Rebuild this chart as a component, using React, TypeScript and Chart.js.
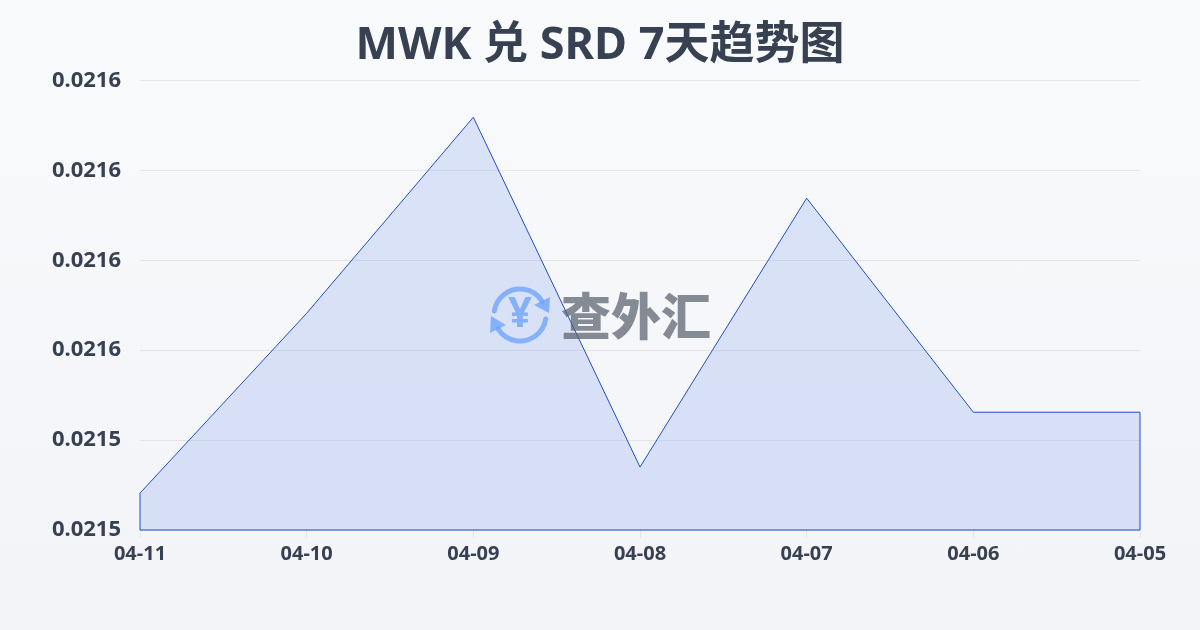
import React, { useEffect, useRef } from "react";
import { Chart, registerables } from "chart.js";

Chart.register(...registerables);

const titleText = "MWK 兑 SRD 7天趋势图";
const categories = ["04-11", "04-10", "04-09", "04-08", "04-07", "04-06", "04-05"];
const rates = [0.0215282, 0.0215682, 0.0216118, 0.021534, 0.0215938, 0.0215462, 0.0215462];
const yMin = 0.02152;
const yMax = 0.02162;
const yStep = 0.00002;
const watermarkText = "查外汇";
const watermarkSymbol = "¥";

const LABEL_FONT = "'Noto Sans', 'Noto Sans CJK SC', sans-serif";
const LINE_COLOR = "#1e4fc0";

const outlinePlugin = {
  id: "outline",
  afterDatasetsDraw(chart: any) {
    const { ctx, chartArea } = chart;
    const pts = chart.getDatasetMeta(0).data;
    const first = pts[0];
    const last = pts[pts.length - 1];
    ctx.save();
    ctx.strokeStyle = LINE_COLOR;
    ctx.lineWidth = 1;
    ctx.beginPath();
    ctx.moveTo(first.x, first.y);
    ctx.lineTo(first.x, chartArea.bottom);
    ctx.lineTo(last.x, chartArea.bottom);
    ctx.lineTo(last.x, last.y);
    ctx.stroke();
    ctx.restore();
  },
};

const watermarkPlugin = {
  id: "watermark",
  afterDraw(chart: any) {
    const { ctx } = chart;
    ctx.save();
    const cx = 520;
    const cy = 315;
    const r = 26;
    ctx.strokeStyle = "rgba(100,160,250,0.72)";
    ctx.fillStyle = "rgba(100,160,250,0.72)";
    ctx.lineWidth = 5;
    ctx.lineCap = "round";
    ctx.beginPath();
    ctx.arc(cx, cy, r, Math.PI * 1.05, Math.PI * 1.82);
    ctx.stroke();
    ctx.beginPath();
    ctx.arc(cx, cy, r, Math.PI * 0.05, Math.PI * 0.82);
    ctx.stroke();
    ctx.beginPath();
    ctx.moveTo(550, 297);
    ctx.lineTo(549, 313);
    ctx.lineTo(534, 305);
    ctx.closePath();
    ctx.fill();
    ctx.beginPath();
    ctx.moveTo(490, 333);
    ctx.lineTo(491, 316);
    ctx.lineTo(506, 325);
    ctx.closePath();
    ctx.fill();
    ctx.font = `bold 42px ${LABEL_FONT}`;
    ctx.textAlign = "center";
    ctx.textBaseline = "middle";
    ctx.fillText(watermarkSymbol, cx, cy);
    ctx.font = `900 50px 'Noto Sans CJK SC', sans-serif`;
    ctx.textAlign = "left";
    ctx.fillStyle = "rgba(85,92,105,0.7)";
    ctx.fillText(watermarkText, 561, 316);
    ctx.restore();
  },
};

export default function App() {
  const ref = useRef<HTMLCanvasElement>(null);
  useEffect(() => {
    document.body.style.margin = "0";
    const chart = new Chart(ref.current as HTMLCanvasElement, {
      type: "line",
      data: {
        labels: categories,
        datasets: [
          {
            data: rates,
            borderColor: LINE_COLOR,
            borderWidth: 1,
            backgroundColor: "rgba(40,95,235,0.14)",
            fill: "start",
            tension: 0,
            pointRadius: 0,
          },
        ],
      },
      options: {
        responsive: false,
        animation: false,
        layout: { padding: 0 },
        plugins: {
          legend: { display: false },
          tooltip: { enabled: false },
          title: {
            display: true,
            text: titleText,
            color: "#374151",
            font: { family: LABEL_FONT, size: 45, weight: "bold", lineHeight: 1 },
            padding: { top: 24, bottom: 11.4 },
          },
        },
        scales: {
          x: {
            type: "category",
            offset: false,
            afterFit(axis: any) {
              axis.height = 100;
            },
            grid: { drawOnChartArea: false, drawTicks: true, tickLength: 8, color: "rgba(0,0,0,0.06)" },
            border: { display: false },
            ticks: {
              autoSkip: false,
              maxRotation: 0,
              padding: 4,
              color: "#374151",
              font: { family: LABEL_FONT, size: 20, weight: "bold" },
            },
          },
          y: {
            min: yMin,
            max: yMax,
            afterBuildTicks(axis: any) {
              const list = [];
              for (let i = 0; i <= 5; i++) list.push({ value: yMin + i * yStep });
              axis.ticks = list;
            },
            afterFit(axis: any) {
              axis.width = 140;
            },
            grid: { color: "rgba(0,0,0,0.07)", lineWidth: 1, drawTicks: false },
            border: { display: false },
            ticks: {
              padding: 19,
              color: "#374151",
              font: { family: LABEL_FONT, size: 22, weight: "bold" },
              callback: (v: any) => Number(v).toFixed(4),
            },
          },
          rightGutter: {
            position: "right",
            display: true,
            afterFit(axis: any) {
              axis.width = 60;
            },
            grid: { drawOnChartArea: false, drawTicks: false },
            border: { display: false },
            ticks: { display: false },
          },
        },
      },
      plugins: [outlinePlugin, watermarkPlugin],
    } as any);
    return () => chart.destroy();
  }, []);
  return (
    <div
      style={{
        width: 1200,
        height: 630,
        background: "linear-gradient(180deg, #f9fafc 0%, #f2f4f7 100%)",
      }}
    >
      <canvas ref={ref} width={1200} height={630} style={{ display: "block" }} />
    </div>
  );
}
